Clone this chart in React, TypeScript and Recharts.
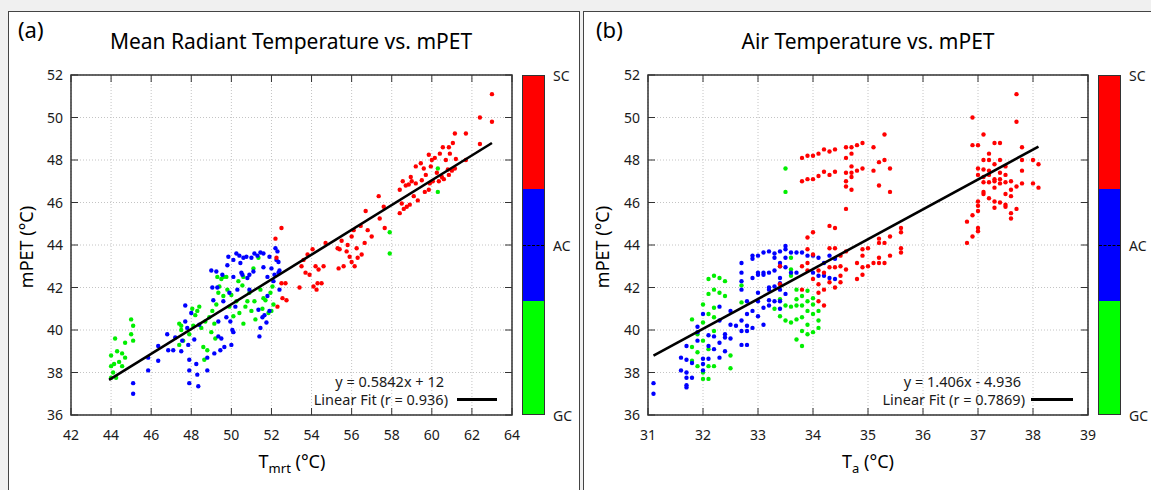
import React from "react";
import {
  ScatterChart,
  Scatter,
  XAxis,
  YAxis,
  CartesianGrid,
  ReferenceArea,
} from "recharts";

// ---- data: [x, mPET] ----
const xTicksA = [42, 44, 46, 48, 50, 52, 54, 56, 58, 60, 62, 64];
const xTicksB = [31, 32, 33, 34, 35, 36, 37, 38, 39];
const yTicks = [36, 38, 40, 42, 44, 46, 48, 50, 52];
const classLabels = ["SC", "AC", "GC"];

const greenA: [number, number][] = [
  [44.0, 38.8], [44.0, 38.3], [44.0, 37.75], [44.1, 38.0], [44.15, 38.4], [44.2, 39.6], [44.25, 37.75],
  [44.3, 39.0], [44.4, 38.5], [44.55, 38.9], [44.55, 38.3], [44.7, 39.4], [44.7, 38.7], [45.0, 40.5],
  [45.0, 39.8], [45.1, 40.2], [45.1, 39.5],
  [47.4, 40.3], [47.5, 40.0], [47.6, 39.5], [47.4, 39.3], [47.5, 40.2], [48.05, 41.0], [48.2, 40.7],
  [48.4, 41.1], [48.5, 40.1], [48.6, 39.2], [48.65, 38.6], [48.8, 39.05], [48.9, 40.6], [49.0, 39.9],
  [49.05, 40.9], [49.15, 40.3], [49.25, 41.2], [49.35, 41.75], [49.4, 42.05], [49.5, 42.4], [49.6, 41.6],
  [49.75, 42.5], [49.8, 41.9], [49.9, 41.1], [50.0, 41.65], [50.1, 40.65], [50.25, 41.35], [50.4, 40.8],
  [50.55, 42.1], [50.6, 42.5], [50.6, 40.3], [50.8, 41.35], [50.9, 41.75], [51.0, 40.9], [51.15, 41.35],
  [51.2, 40.5], [51.35, 43.4], [51.45, 41.9], [51.55, 41.0], [51.7, 41.4], [51.85, 40.8], [51.95, 41.75],
  [52.05, 42.05], [52.1, 41.2], [48.1, 40.2], [48.3, 40.9], [47.9, 39.8], [49.3, 42.5], [49.6, 42.5],
  [50.35, 42.3], [51.1, 42.9], [51.6, 41.5], [52.0, 40.9], [50.7, 41.1], [49.2, 39.6], [48.7, 40.4],
  [57.9, 44.6], [57.9, 43.6], [60.3, 47.6], [60.3, 46.5],
];

const blueA: [number, number][] = [
  [45.1, 37.5], [45.1, 37.0], [45.85, 38.7], [45.85, 38.1], [46.35, 39.25], [46.35, 38.55], [46.8, 39.8],
  [46.85, 39.05], [47.1, 39.05], [47.2, 39.65], [47.5, 39.0], [47.55, 39.5], [47.7, 41.15], [47.7, 40.4],
  [47.8, 40.1], [47.85, 39.3], [47.9, 38.6], [47.9, 38.1], [47.9, 37.5], [48.0, 40.8], [48.15, 39.55],
  [48.25, 38.4], [48.3, 37.9], [48.35, 37.35], [48.4, 40.25], [48.8, 38.1], [48.8, 38.7], [49.0, 42.8],
  [49.05, 42.0], [49.15, 38.9], [49.25, 42.75], [49.35, 40.4], [49.35, 39.7], [49.45, 39.05], [49.5, 39.6],
  [49.6, 41.35], [49.65, 39.2], [49.8, 43.05], [49.85, 43.45], [49.9, 41.75], [49.95, 40.4], [50.0, 39.3],
  [50.05, 40.0], [50.1, 43.3], [50.1, 42.5], [50.25, 43.6], [50.3, 41.9], [50.45, 43.15], [50.5, 42.7],
  [50.6, 43.4], [50.8, 42.45], [51.0, 43.4], [51.1, 42.75], [51.3, 43.5], [51.35, 40.95], [51.4, 39.7],
  [51.45, 40.1], [51.55, 40.6], [51.6, 43.6], [51.6, 42.95], [51.65, 40.7], [51.75, 40.35], [51.8, 42.5],
  [51.9, 43.45], [52.0, 42.9], [52.1, 42.3], [52.2, 43.85], [52.25, 43.3], [52.35, 42.7], [52.4, 41.9],
  [51.8, 41.6], [50.4, 43.5], [50.75, 43.45], [51.15, 43.6], [51.45, 43.65], [49.3, 42.0], [49.55, 42.6],
  [50.55, 42.6], [50.9, 42.6], [52.3, 43.7], [52.15, 42.6], [52.35, 43.2], [49.1, 41.4], [50.2, 41.1],
  [50.9, 41.9], [49.75, 40.6], [50.1, 39.9], [51.9, 40.9], [52.4, 42.8],
];

const redA: [number, number][] = [
  [52.2, 44.3], [52.5, 44.8], [52.25, 43.4], [52.5, 42.2], [52.7, 42.2], [52.55, 41.5], [52.75, 41.4],
  [52.3, 41.1], [53.4, 42.0], [53.5, 43.0], [53.6, 43.3], [53.8, 43.55], [53.9, 42.6], [54.05, 43.8],
  [54.1, 42.05], [54.2, 43.0], [54.25, 41.9], [54.35, 42.85], [54.5, 42.2], [54.6, 43.0], [54.7, 44.1],
  [55.3, 43.85], [55.35, 42.9], [55.5, 44.2], [55.6, 43.0], [55.75, 43.7], [55.9, 43.45], [56.0, 44.4],
  [56.1, 44.7], [56.15, 43.0], [56.25, 43.85], [56.45, 44.9], [56.5, 43.55], [56.65, 44.1], [56.7, 45.6],
  [56.8, 44.7], [57.0, 44.4], [57.35, 46.3], [57.4, 45.25], [57.6, 45.8], [57.65, 44.8], [58.4, 45.5],
  [58.5, 45.95], [58.4, 46.6], [58.55, 47.0], [58.75, 45.8], [58.85, 46.85], [58.95, 47.2], [59.1, 46.3],
  [59.2, 47.7], [59.3, 46.1], [59.45, 47.85], [59.5, 47.05], [59.65, 46.5], [59.7, 47.3], [59.85, 48.25],
  [59.85, 46.6], [59.95, 47.7], [60.05, 47.0], [60.15, 48.1], [60.25, 47.4], [60.4, 48.3], [60.5, 47.2],
  [60.55, 48.6], [60.7, 48.0], [60.8, 47.55], [60.85, 48.6], [61.05, 48.8], [61.15, 47.6], [61.2, 48.05],
  [61.15, 49.25], [61.7, 49.25], [61.7, 48.0], [62.4, 48.75], [62.4, 50.0], [63.0, 51.1], [63.0, 49.8],
  [60.85, 47.3], [53.7, 42.7], [54.3, 42.2], [55.8, 44.0], [56.0, 43.2], [58.6, 45.7], [58.9, 45.9],
  [59.2, 46.9], [59.6, 47.6], [60.0, 48.0], [60.35, 47.0], [60.6, 47.1], [61.0, 47.5], [60.9, 48.3],
  [59.9, 46.9], [58.7, 46.8], [59.0, 47.0], [56.3, 43.4], [55.4, 43.8],
];

const fitA: [number, number][] = [[43.9, 37.65], [63.0, 48.8]];

const greenB: [number, number][] = [
  [31.8, 40.5], [31.8, 39.2], [31.8, 38.55], [31.9, 38.95], [31.9, 39.8], [31.9, 38.3], [32.0, 41.2],
  [32.0, 40.35], [32.0, 38.0], [32.0, 37.7], [32.1, 42.4], [32.1, 41.7], [32.1, 40.75], [32.1, 38.3],
  [32.1, 37.7], [32.2, 42.55], [32.2, 41.9], [32.2, 41.05], [32.2, 39.95], [32.2, 38.3], [32.3, 42.45],
  [32.3, 41.75], [32.4, 42.3], [32.4, 41.6], [32.5, 38.8], [32.5, 38.2], [32.7, 41.3], [32.7, 42.1],
  [33.3, 41.0], [33.4, 40.65], [33.4, 41.45], [33.5, 41.15], [33.5, 40.45], [33.5, 47.6], [33.5, 46.5],
  [33.6, 43.4], [33.6, 42.55], [33.6, 40.35], [33.7, 41.15], [33.7, 39.55], [33.7, 40.5], [33.7, 41.9],
  [33.8, 41.6], [33.8, 41.15], [33.8, 39.95], [33.8, 39.25], [33.9, 41.85], [33.9, 41.35], [33.9, 40.9],
  [33.9, 40.25], [34.0, 41.5], [34.0, 40.75], [34.0, 39.9], [34.1, 40.9], [34.1, 40.45], [34.1, 40.1],
  [33.6, 42.85], [33.7, 41.45], [32.0, 39.5], [32.1, 39.1], [32.2, 40.6], [33.8, 40.6], [34.0, 41.2],
  [33.9, 39.8], [33.6, 41.1],
];

const blueB: [number, number][] = [
  [31.1, 37.5], [31.1, 37.0], [31.6, 38.7], [31.6, 38.1], [31.7, 38.6], [31.7, 38.0], [31.7, 37.75],
  [31.7, 37.4], [31.7, 37.3], [31.7, 39.25], [31.8, 37.75], [31.8, 38.45], [31.9, 40.15], [31.9, 39.5],
  [32.0, 38.65], [32.0, 38.1], [32.0, 40.75], [32.1, 39.25], [32.1, 38.65], [32.1, 39.75], [32.2, 39.1],
  [32.2, 39.7], [32.3, 38.7], [32.3, 39.4], [32.3, 40.45], [32.3, 41.1], [32.4, 39.0], [32.4, 39.65],
  [32.5, 40.25], [32.5, 39.6], [32.5, 40.9], [32.7, 39.3], [32.7, 40.45], [32.7, 39.95], [32.7, 41.9],
  [32.7, 42.3], [32.7, 42.7], [32.7, 43.15], [32.8, 39.3], [32.8, 39.95], [32.8, 40.75], [32.8, 41.35],
  [32.9, 40.1], [32.9, 40.9], [32.9, 42.45], [32.9, 43.35], [33.0, 40.65], [33.0, 41.35], [33.0, 41.75],
  [33.0, 42.6], [33.0, 43.5], [33.1, 40.25], [33.1, 41.05], [33.1, 42.7], [33.1, 43.65], [33.2, 41.15],
  [33.2, 41.9], [33.2, 42.7], [33.2, 43.7], [33.3, 41.35], [33.3, 42.05], [33.3, 42.8], [33.3, 43.4],
  [33.4, 41.0], [33.4, 41.35], [33.4, 41.9], [33.4, 42.45], [33.4, 43.15], [33.4, 43.7], [33.5, 41.7],
  [33.5, 42.95], [33.5, 43.8], [33.5, 43.95], [33.6, 43.65], [33.7, 42.7], [33.7, 43.65], [33.8, 43.65],
  [33.9, 43.5], [34.0, 43.5], [34.0, 42.7], [34.1, 43.4], [34.1, 42.55], [34.2, 43.15], [34.2, 42.55],
  [34.3, 43.5], [34.3, 42.45], [34.4, 43.35], [34.4, 42.4], [32.9, 43.5], [33.0, 42.7], [33.1, 42.6],
  [33.2, 42.0], [33.3, 43.6], [33.4, 43.0], [33.4, 42.2], [33.5, 43.4], [32.6, 40.2], [31.9, 39.9],
  [32.0, 38.4], [33.6, 42.7], [32.4, 39.8], [32.8, 40.2], [33.2, 41.4],
];

const redB: [number, number][] = [
  // upper band around 34-35.4
  [33.8, 48.1], [33.8, 47.0], [33.9, 48.2], [33.9, 47.1], [34.0, 48.2], [34.0, 47.1], [34.1, 48.3],
  [34.1, 47.25], [34.2, 48.5], [34.2, 47.45], [34.3, 48.4], [34.3, 47.3], [34.4, 48.5], [34.4, 47.45],
  [34.6, 48.6], [34.6, 48.1], [34.6, 47.4], [34.6, 47.0], [34.6, 46.75], [34.6, 45.7], [34.7, 48.6],
  [34.7, 48.3], [34.7, 47.7], [34.7, 47.4], [34.7, 47.2], [34.7, 46.6], [34.8, 48.7], [34.8, 47.5],
  [34.9, 48.8], [34.9, 47.6], [35.1, 48.6], [35.1, 47.5], [35.2, 47.9], [35.2, 46.8], [35.3, 49.2],
  [35.3, 48.0], [35.4, 47.6], [35.4, 46.5],
  // lower band
  [33.4, 43.0], [33.4, 42.15], [33.8, 43.0], [33.8, 41.9], [33.9, 44.35], [33.9, 43.8], [33.9, 43.15],
  [33.9, 42.8], [34.0, 44.6], [34.0, 43.55], [34.0, 42.4], [34.1, 42.8], [34.1, 42.15], [34.1, 41.75],
  [34.1, 41.35], [34.2, 42.7], [34.2, 41.9], [34.2, 41.15], [34.3, 44.9], [34.3, 43.85], [34.3, 42.95],
  [34.3, 42.25], [34.4, 44.8], [34.4, 43.85], [34.4, 42.95], [34.4, 42.0], [34.5, 43.5], [34.5, 43.0],
  [34.5, 42.55], [34.5, 42.25], [34.6, 43.7], [34.6, 42.85], [34.8, 43.15], [34.8, 42.4], [34.9, 43.8],
  [34.9, 43.5], [34.9, 42.95], [34.9, 42.6], [35.0, 43.85], [35.0, 43.0], [35.1, 43.15], [35.2, 44.3],
  [35.2, 44.1], [35.2, 43.4], [35.2, 43.15], [35.3, 44.1], [35.3, 43.15], [35.4, 44.4], [35.4, 43.5],
  [35.6, 44.8], [35.6, 44.6], [35.6, 43.85], [35.6, 43.65],
  // cluster around 37
  [36.8, 45.1], [36.8, 44.1], [36.9, 45.4], [36.9, 44.4], [36.9, 50.0], [36.9, 48.7], [37.0, 48.7],
  [37.0, 47.6], [37.0, 47.3], [37.0, 46.05], [37.0, 45.85], [37.0, 45.6], [37.0, 44.8], [37.0, 44.65],
  [37.1, 49.2], [37.1, 48.0], [37.1, 47.55], [37.1, 46.95], [37.1, 46.5], [37.1, 46.4], [37.2, 48.3],
  [37.2, 48.0], [37.2, 47.3], [37.2, 46.95], [37.2, 46.2], [37.3, 48.8], [37.3, 47.8], [37.3, 47.1],
  [37.3, 46.7], [37.3, 46.05], [37.3, 45.75], [37.4, 48.8], [37.4, 48.0], [37.4, 47.1], [37.4, 46.9],
  [37.4, 46.0], [37.5, 47.7], [37.5, 47.3], [37.5, 46.95], [37.5, 46.4], [37.5, 45.9], [37.5, 45.8],
  [37.6, 47.0], [37.6, 46.6], [37.6, 46.3], [37.6, 45.5], [37.6, 45.25], [37.7, 51.1], [37.7, 49.8],
  [37.7, 46.75], [37.7, 45.7], [37.8, 48.6], [37.8, 48.0], [37.8, 47.5], [37.8, 46.9], [38.0, 48.0],
  [38.0, 46.9], [38.1, 47.8], [38.1, 46.7], [37.2, 47.5], [37.3, 47.0], [37.4, 47.4], [37.1, 47.2],
];

const fitB: [number, number][] = [[31.1, 38.79], [38.1, 48.63]];

const FONT = '"Noto Sans", "DejaVu Sans", sans-serif';
const TXT = "#1a1a1a";
const RED = "#ff0000";
const BLUE = "#0000ff";
const GREEN = "#00ee00";

const pts = (a: [number, number][]) => a.map(([x, y]) => ({ x, y }));

const dot = (color: string) => (p: any) =>
  <circle cx={p.cx} cy={p.cy} r={2.2} fill={color} />;

// chart box geometry (shared vertical layout)
const CH_TOP = 12;
const CH_H = 478;
const M_TOP = 63;
const X_H = 30;
const M_BOTTOM = 45;
const PLOT_TOP = M_TOP;
const PLOT_BOTTOM = CH_H - M_BOTTOM - X_H;

interface PanelProps {
  left: number;
  width: number;
  yWidth: number;
  marginRight: number;
  domain: [number, number];
  ticks: number[];
  green: [number, number][];
  blue: [number, number][];
  red: [number, number][];
  fit: [number, number][];
}

function Panel({ left, width, yWidth, marginRight, domain, ticks, green, blue, red, fit }: PanelProps) {
  const plotRight = width - marginRight;

  const XTick = (p: any) => (
    <g>
      <line x1={p.x} x2={p.x} y1={PLOT_BOTTOM} y2={PLOT_BOTTOM - 7} stroke="#333" />
      <line x1={p.x} x2={p.x} y1={PLOT_TOP} y2={PLOT_TOP + 7} stroke="#333" />
      <text x={p.x} y={PLOT_BOTTOM + 25} textAnchor="middle" fontSize={14} fill={TXT} fontFamily={FONT}>
        {p.payload.value}
      </text>
    </g>
  );
  const YTick = (p: any) => (
    <g>
      <line x1={yWidth} x2={yWidth + 7} y1={p.y} y2={p.y} stroke="#333" />
      <line x1={plotRight} x2={plotRight - 7} y1={p.y} y2={p.y} stroke="#333" />
      <text x={yWidth - 8} y={p.y + 5} textAnchor="end" fontSize={14} fill={TXT} fontFamily={FONT}>
        {p.payload.value}
      </text>
    </g>
  );

  return (
    <div style={{ position: "absolute", left, top: CH_TOP }}>
      <ScatterChart
        width={width}
        height={CH_H}
        margin={{ top: M_TOP, right: marginRight, bottom: M_BOTTOM, left: 0 }}
      >
        <CartesianGrid stroke="#c4c4c4" strokeDasharray="1 2" />
        <XAxis
          type="number"
          dataKey="x"
          domain={domain}
          ticks={ticks}
          interval={0}
          allowDataOverflow
          height={X_H}
          axisLine={false}
          tickLine={false}
          tickSize={0}
          tickMargin={0}
          tick={XTick}
        />
        <YAxis
          type="number"
          dataKey="y"
          domain={[36, 52]}
          ticks={yTicks}
          interval={0}
          allowDataOverflow
          width={yWidth}
          axisLine={false}
          tickLine={false}
          tickSize={0}
          tickMargin={0}
          tick={YTick}
        />
        <Scatter data={pts(green)} fill={GREEN} shape={dot(GREEN)} isAnimationActive={false} />
        <Scatter data={pts(blue)} fill={BLUE} shape={dot(BLUE)} isAnimationActive={false} />
        <Scatter data={pts(red)} fill={RED} shape={dot(RED)} isAnimationActive={false} />
        <Scatter
          data={pts(fit)}
          line={{ stroke: "#000", strokeWidth: 2.6 }}
          shape={() => <g />}
          isAnimationActive={false}
        />
        <ReferenceArea
          x1={domain[0]}
          x2={domain[1]}
          y1={36}
          y2={52}
          fill="none"
          stroke="#333"
          strokeWidth={1.5}
          ifOverflow="visible"
        />
      </ScatterChart>
    </div>
  );
}

function ColorBar({ left }: { left: number }) {
  return (
    <>
      <div
        style={{
          position: "absolute", left, top: 75, width: 23, height: 340,
          border: "1px solid #333", boxSizing: "border-box", display: "flex", flexDirection: "column",
        }}
      >
        <div style={{ flex: 1, background: RED }} />
        <div style={{ flex: 1, background: BLUE, position: "relative" }}>
          <div style={{ position: "absolute", left: 0, right: 0, top: "50%", borderTop: "1px dashed #000" }} />
        </div>
        <div style={{ flex: 1, background: "#00ff00" }} />
      </div>
      {classLabels.map((c, i) => (
        <div
          key={c}
          style={{
            position: "absolute", left: left + 31, top: 76 + i * 170 - 10, lineHeight: "20px",
            fontSize: 14, color: TXT, fontFamily: FONT,
          }}
        >
          {c}
        </div>
      ))}
    </>
  );
}

const abs = (s: React.CSSProperties): React.CSSProperties => ({
  position: "absolute", fontFamily: FONT, color: "#000", whiteSpace: "nowrap", ...s,
});

export default function App() {
  return (
    <div style={{ position: "absolute", left: 0, top: 0, width: 1151, height: 490, background: "#f0f0f0", overflow: "hidden" }}>
      <div style={{ position: "absolute", left: 8, top: 11, width: 572, height: 500, background: "#fff", border: "1px solid #444", boxSizing: "border-box" }} />
      <div style={{ position: "absolute", left: 583, top: 11, width: 580, height: 500, background: "#fff", border: "1px solid #444", boxSizing: "border-box" }} />

      <Panel left={9} width={570} yWidth={62} marginRight={67} domain={[42, 64]} ticks={xTicksA}
        green={greenA} blue={blueA} red={redA} fit={fitA} />
      <Panel left={584} width={567} yWidth={64} marginRight={63} domain={[31, 39]} ticks={xTicksB}
        green={greenB} blue={blueB} red={redB} fit={fitB} />

      <ColorBar left={522} />
      <ColorBar left={1098} />

      {/* panel (a) texts */}
      <div style={abs({ left: 18, top: 14, fontSize: 22 })}>(a)</div>
      <div style={abs({ left: 291, top: 41, fontSize: 21, transform: "translate(-50%,-50%)" })}>
        Mean Radiant Temperature vs. mPET
      </div>
      <div style={abs({ left: 26, top: 247, fontSize: 18, transform: "translate(-50%,-50%) rotate(-90deg)" })}>
        mPET (°C)
      </div>
      <div style={abs({ left: 292, top: 463, fontSize: 18, transform: "translate(-50%,-50%)" })}>
        T<sub style={{ fontSize: 13 }}>mrt</sub> (°C)
      </div>
      <div style={abs({ right: 1151 - 444, top: 371, fontSize: 14.5, lineHeight: "20px", color: TXT })}>y = 0.5842x + 12</div>
      <div style={abs({ right: 1151 - 448, top: 389, fontSize: 14.5, lineHeight: "20px", color: TXT })}>Linear Fit (r = 0.936)</div>
      <div style={{ position: "absolute", left: 457, top: 398, width: 40, height: 3, background: "#000" }} />

      {/* panel (b) texts */}
      <div style={abs({ left: 596, top: 14, fontSize: 22 })}>(b)</div>
      <div style={abs({ left: 868, top: 41, fontSize: 21, transform: "translate(-50%,-50%)" })}>
        Air Temperature vs. mPET
      </div>
      <div style={abs({ left: 602, top: 247, fontSize: 18, transform: "translate(-50%,-50%) rotate(-90deg)" })}>
        mPET (°C)
      </div>
      <div style={abs({ left: 868, top: 463, fontSize: 18, transform: "translate(-50%,-50%)" })}>
        T<sub style={{ fontSize: 13 }}>a</sub> (°C)
      </div>
      <div style={abs({ right: 1151 - 1021, top: 371, fontSize: 14.5, lineHeight: "20px", color: TXT })}>y = 1.406x - 4.936</div>
      <div style={abs({ right: 1151 - 1025, top: 389, fontSize: 14.5, lineHeight: "20px", color: TXT })}>Linear Fit (r = 0.7869)</div>
      <div style={{ position: "absolute", left: 1031, top: 398, width: 42, height: 3, background: "#000" }} />
    </div>
  );
}
